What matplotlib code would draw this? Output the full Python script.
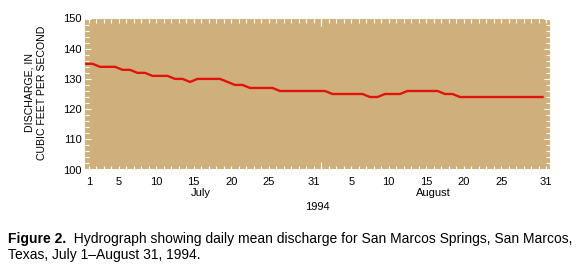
import matplotlib
matplotlib.use('Agg')
import matplotlib.pyplot as plt
import matplotlib.transforms as mtransforms
import numpy as np

# ---- data ----
day_of_period = list(range(1, 63))          # July 1 .. August 31
discharge = [135, 135, 134, 134, 134, 133, 133, 132, 132, 131,
             131, 131, 130, 130, 129, 130, 130, 130, 130, 129,
             128, 128, 127, 127, 127, 127, 126, 126, 126, 126,
             126, 126, 126, 125, 125, 125, 125, 125, 124, 124,
             125, 125, 125, 126, 126, 126, 126, 126, 125, 125,
             124, 124, 124, 124, 124, 124, 124, 124, 124, 124,
             124, 124]
month_names = ['July', 'August']
month_lengths = [31, 31]
july_label_days = [1, 5, 10, 15, 20, 25, 31]
august_label_days = [5, 10, 15, 20, 25, 31]
y_ticks = [100, 110, 120, 130, 140, 150]
year_label = '1994'
ylabel = 'DISCHARGE, IN\nCUBIC FEET PER SECOND'
caption_bold = 'Figure 2.'
caption_rest_1 = '  Hydrograph showing daily mean discharge for San Marcos Springs, San Marcos,'
caption_line_2 = 'Texas, July 1\u2013August 31, 1994.'

plt.rcParams['font.family'] = ['Liberation Sans', 'DejaVu Sans']

W, H = 581, 265
fig = plt.figure(figsize=(W / 100, H / 100), dpi=100)
ax = fig.add_axes([85 / W, 1 - 169.5 / H, 465 / W, 151 / H])
ax.set_facecolor('#CFB07C')

x = np.array(day_of_period) - 1  # days since July 1
ax.plot(x, discharge, color='#E0140A', lw=1.7)
ax.set_xlim(0, sum(month_lengths))
ax.set_ylim(y_ticks[0], y_ticks[-1])
for s in ax.spines.values():
    s.set_visible(False)

xt = [d - 0.5 for d in july_label_days] + [month_lengths[0] + d - 0.5 for d in august_label_days]
xl = [str(d) for d in july_label_days] + [str(d) for d in august_label_days]
ax.set_xticks(xt, xl)
ax.set_xticks(np.arange(sum(month_lengths)) + 0.5, minor=True)
ax.tick_params(axis='x', which='both', direction='in', top=True, bottom=True,
               color='white', length=2.6, width=0.8, labelsize=8, pad=5.5)
ax.set_yticks(y_ticks)
ax.set_yticks(np.arange(y_ticks[0], y_ticks[-1] + 1, 2), minor=True)
ax.tick_params(axis='y', which='major', direction='in', left=True, right=True,
               color='white', length=4.3, width=0.8, labelsize=8, pad=2.5)
ax.tick_params(axis='y', which='minor', direction='in', left=True, right=True,
               color='white', length=2.9, width=0.8)

# long tick at the month boundary (top and bottom)
for side in ['top', 'bottom']:
    sec = ax.secondary_xaxis(side)
    sec.set_xticks([month_lengths[0] + 0.5], [''])
    sec.tick_params(direction='in', length=6, color='white', width=0.8)
    for s in sec.spines.values():
        s.set_visible(False)

trans = mtransforms.blended_transform_factory(ax.transData, ax.transAxes)
start = 0
for name, n in zip(month_names, month_lengths):
    ax.text(start + n / 2, -0.12, name, transform=trans, ha='center', va='top', fontsize=8)
    start += n
ax.text(0.5, -0.215, year_label, transform=ax.transAxes, ha='center', va='top', fontsize=8)

fig.text(35.5 / W, 1 - 93 / H, ylabel, rotation=90, ha='center', va='center',
         fontsize=7.6, linespacing=1.3, multialignment='center')

t = fig.text(8 / W, 1 - 242.7 / H, caption_bold, fontweight='bold', fontsize=10, va='baseline')
ax.annotate(caption_rest_1, xy=(1, 0), xycoords=t, va='bottom', ha='left', fontsize=10,
            annotation_clip=False)
fig.text(8 / W, 1 - 259.3 / H, caption_line_2, fontsize=10, va='baseline')

fig.savefig('out.png', dpi=100)
